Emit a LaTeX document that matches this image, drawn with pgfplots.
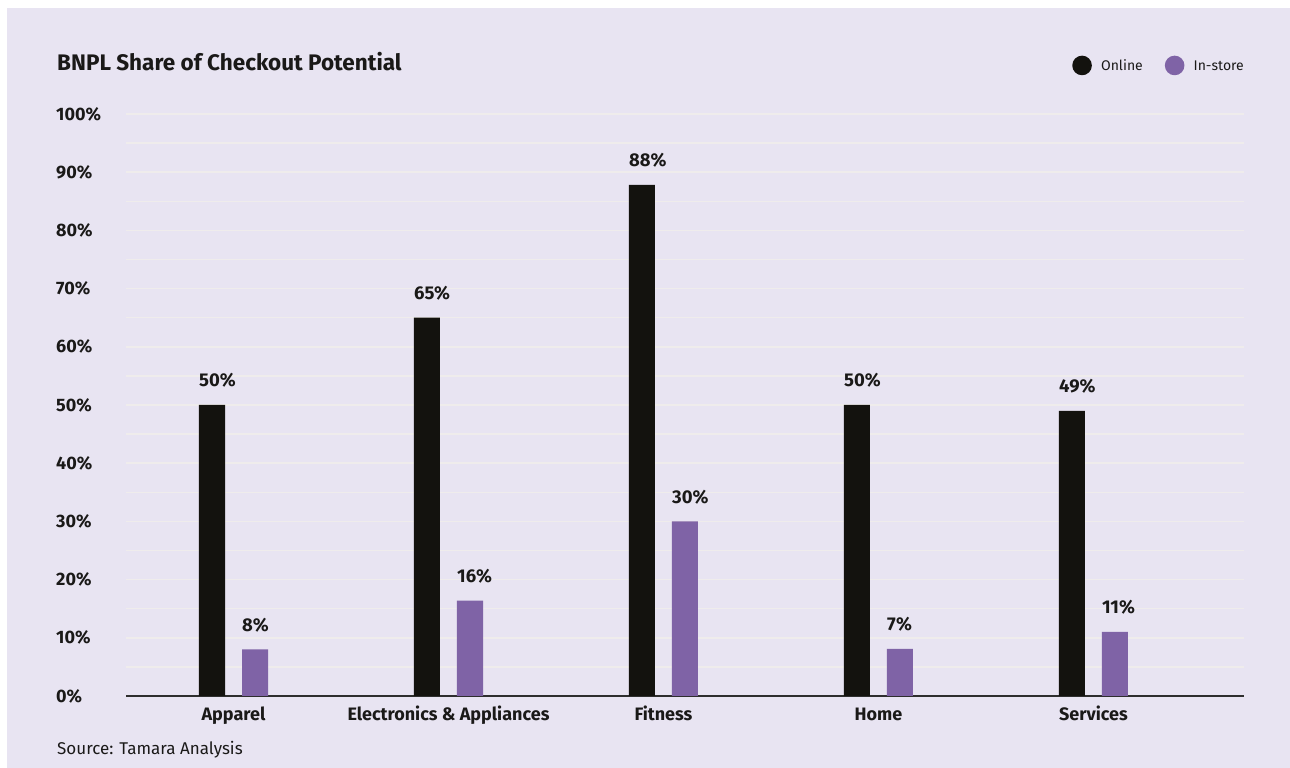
\documentclass[border=0pt]{standalone}
\usepackage{pgfplots}
\pgfplotsset{compat=1.18}
\usepackage{pgfplotstable}
\usepackage{fontspec}
\setmainfont{Fira Sans}
\definecolor{bgc}{RGB}{232,228,242}
\definecolor{txt}{RGB}{26,25,24}
\definecolor{onc}{RGB}{19,18,14}
\definecolor{inc}{RGB}{127,99,166}
\definecolor{gridc}{RGB}{239,236,236}
\definecolor{axc}{RGB}{46,46,46}
\pgfplotstableread{
x on onl ins insl
0 50 50 8 8
1 65 65 16.4 16
2 87.8 88 30 30
3 50 50 8.1 7
4 49 49 11 11
}\data
\begin{document}
\begin{tikzpicture}[x=1pt,y=1pt]
\fill[white] (0,0) rectangle (1290,768);
\fill[bgc] (7,0) rectangle (1290,760);
\node[anchor=base west, inner sep=0, font=\fontsize{22.5}{26}\selectfont\bfseries, text=txt] at (57,697) {BNPL Share of Checkout Potential};
\node[anchor=base west, inner sep=0, font=\fontsize{17}{20}\selectfont, text=txt] at (57,13) {Source: Tamara Analysis};
\begin{axis}[
  at={(126pt,72pt)}, anchor=south west, scale only axis,
  width=1118pt, height=582pt,
  xmin=-0.5, xmax=4.7, ymin=0, ymax=100,
  ybar=17pt, bar width=26pt,
  axis x line*=bottom, axis y line*=left,
  x axis line style={line width=2pt, draw=axc, -},
  y axis line style={draw=none, -},
  xtick={0,1,2,3,4},
  xticklabels={Apparel, Electronics \& Appliances, Fitness, Home, Services},
  ytick={0,10,...,100},
  yticklabels={0\%,10\%,20\%,30\%,40\%,50\%,60\%,70\%,80\%,90\%,100\%},
  minor ytick={5,15,...,95},
  ymajorgrids, yminorgrids,
  major grid style={draw=gridc, line width=1.5pt},
  minor grid style={draw=gridc, line width=1.5pt},
  major tick length=0pt, minor tick length=0pt,
  tick label style={font=\fontsize{18}{20}\selectfont\bfseries, text=txt, inner sep=0pt},
  xticklabel style={anchor=base, yshift=-25pt},
  yticklabel style={anchor=west, xshift=-70pt},
  point meta=explicit symbolic,
  nodes near coords={\pgfplotspointmeta\%},
  nodes near coords style={anchor=base west, xshift=-13pt, yshift=18pt, font=\fontsize{18.5}{20}\selectfont\bfseries, text=txt, inner sep=0pt},
  legend style={at={(rel axis cs:1,1.0834)}, anchor=east, draw=none, fill=none,
    font=\fontsize{14}{17}\selectfont, text=txt, inner sep=0pt,
    nodes={inner sep=0pt},
    /tikz/every even column/.append style={column sep=22pt}},
  legend columns=-1,
  clip=false,
]
\addplot[fill=onc, draw=none, legend image code/.code={\fill[onc] (9.5pt,0.5pt) circle (9.8pt); \path (28.5pt,0pt);}] table[x=x, y=on, meta=onl] {\data};
\addplot[fill=inc, draw=none, legend image code/.code={\fill[inc] (9.5pt,0.5pt) circle (9.8pt); \path (28.5pt,0pt);}] table[x=x, y=ins, meta=insl] {\data};
\legend{Online, In-store}
\end{axis}
\end{tikzpicture}
\end{document}
